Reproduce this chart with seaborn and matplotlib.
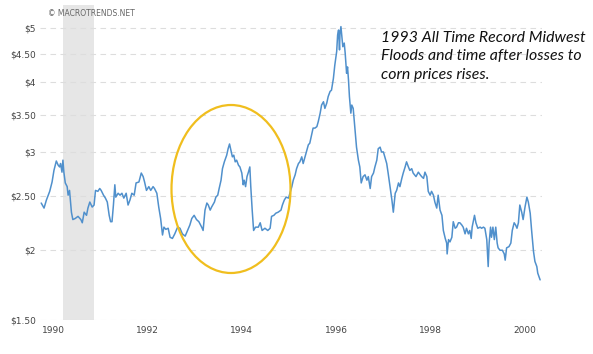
import numpy as np
import pandas as pd
import matplotlib
matplotlib.use("Agg")
import matplotlib.pyplot as plt
from matplotlib.patches import Ellipse
import seaborn as sns

# Corn price (USD per bushel), decimal years
years = [
    1989.75, 1989.81, 1989.86, 1989.93, 1989.98, 1990.02, 1990.07, 1990.11, 1990.14, 1990.16,
    1990.19, 1990.21, 1990.23, 1990.26, 1990.30, 1990.32, 1990.35, 1990.39, 1990.42, 1990.47,
    1990.53, 1990.59, 1990.62, 1990.66, 1990.71, 1990.74, 1990.78, 1990.83, 1990.87, 1990.90,
    1990.95, 1990.99, 1991.02, 1991.07, 1991.11, 1991.15, 1991.19, 1991.22, 1991.25, 1991.28,
    1991.31, 1991.33, 1991.38, 1991.42, 1991.46, 1991.50, 1991.55, 1991.59, 1991.63, 1991.67,
    1991.72, 1991.76, 1991.82, 1991.87, 1991.91, 1991.94, 1991.98, 1992.03, 1992.07, 1992.12,
    1992.15, 1992.20, 1992.24, 1992.28, 1992.32, 1992.35, 1992.39, 1992.44,
    1992.48, 1992.53, 1992.58, 1992.64, 1992.69, 1992.74, 1992.80, 1992.85, 1992.90, 1992.94,
    1992.99, 1993.04, 1993.09, 1993.15, 1993.18, 1993.22, 1993.26, 1993.29, 1993.33, 1993.36,
    1993.42, 1993.45, 1993.49, 1993.52, 1993.56, 1993.59, 1993.63, 1993.68, 1993.71, 1993.74,
    1993.77, 1993.80, 1993.83, 1993.86, 1993.89, 1993.93, 1993.96, 1994.00, 1994.03, 1994.05,
    1994.08, 1994.11, 1994.14, 1994.17, 1994.19, 1994.22, 1994.25, 1994.29, 1994.35, 1994.39,
    1994.43, 1994.49, 1994.55, 1994.60, 1994.63, 1994.68, 1994.72, 1994.77, 1994.83, 1994.86,
    1994.90, 1994.94, 1994.99, 1995.02, 1995.06, 1995.09, 1995.13,
    1995.16, 1995.20, 1995.23, 1995.27, 1995.30, 1995.34, 1995.38, 1995.41, 1995.44, 1995.48,
    1995.51, 1995.55, 1995.59, 1995.62, 1995.66, 1995.69, 1995.73, 1995.76, 1995.80, 1995.83,
    1995.87, 1995.90, 1995.94, 1995.97, 1996.01, 1996.03, 1996.05, 1996.07, 1996.08, 1996.10,
    1996.12, 1996.14, 1996.17, 1996.19, 1996.22, 1996.24, 1996.26, 1996.28, 1996.31, 1996.33,
    1996.36, 1996.40, 1996.43, 1996.47, 1996.50, 1996.53, 1996.57, 1996.61, 1996.65, 1996.68,
    1996.72, 1996.75, 1996.79, 1996.82, 1996.86, 1996.89, 1996.93, 1996.96, 1997.00, 1997.03,
    1997.07, 1997.10, 1997.14, 1997.18, 1997.21, 1997.25, 1997.28, 1997.32, 1997.35, 1997.39,
    1997.42, 1997.46, 1997.49, 1997.53, 1997.56, 1997.60, 1997.63, 1997.69, 1997.74,
    1997.78, 1997.81, 1997.85, 1997.88, 1997.92, 1997.95, 1997.99, 1998.02, 1998.06, 1998.09,
    1998.13, 1998.16, 1998.20, 1998.24, 1998.27, 1998.31, 1998.34, 1998.35, 1998.38, 1998.41,
    1998.45, 1998.48, 1998.52, 1998.55, 1998.59, 1998.62, 1998.66, 1998.69, 1998.73, 1998.76,
    1998.80, 1998.83, 1998.86, 1998.88, 1998.93, 1998.96, 1999.00, 1999.05, 1999.08, 1999.12,
    1999.15, 1999.19, 1999.22, 1999.24, 1999.27, 1999.29, 1999.32, 1999.35, 1999.38, 1999.41,
    1999.43, 1999.47, 1999.52, 1999.56, 1999.58, 1999.61, 1999.66, 1999.70, 1999.73, 1999.77,
    1999.80, 1999.83, 1999.86, 1999.89, 1999.93, 1999.96, 2000.00, 2000.04, 2000.07, 2000.11,
    2000.14, 2000.18, 2000.21, 2000.25, 2000.27, 2000.30, 2000.32,
]
prices = [
    2.43, 2.38, 2.46, 2.55, 2.65, 2.78, 2.89, 2.84, 2.82, 2.86,
    2.76, 2.90, 2.76, 2.64, 2.60, 2.51, 2.56, 2.34, 2.27, 2.28,
    2.30, 2.27, 2.24, 2.34, 2.31, 2.38, 2.44, 2.39, 2.41, 2.56,
    2.55, 2.58, 2.56, 2.51, 2.48, 2.44, 2.31, 2.25, 2.25, 2.41,
    2.62, 2.49, 2.53, 2.51, 2.53, 2.48, 2.53, 2.41, 2.46, 2.53,
    2.51, 2.64, 2.65, 2.75, 2.71, 2.65, 2.56, 2.60, 2.56, 2.60,
    2.58, 2.53, 2.39, 2.28, 2.13, 2.20, 2.18, 2.19,
    2.11, 2.10, 2.14, 2.20, 2.19, 2.14, 2.12, 2.17, 2.22, 2.28,
    2.31, 2.27, 2.25, 2.20, 2.17, 2.36, 2.43, 2.41, 2.36, 2.39,
    2.44, 2.49, 2.51, 2.58, 2.67, 2.80, 2.88, 2.96, 3.04, 3.10,
    3.02, 2.94, 2.96, 2.88, 2.90, 2.84, 2.82, 2.75, 2.62, 2.67,
    2.60, 2.71, 2.76, 2.82, 2.60, 2.36, 2.17, 2.20, 2.20, 2.24,
    2.17, 2.19, 2.17, 2.19, 2.30, 2.31, 2.33, 2.34, 2.36, 2.41,
    2.46, 2.49, 2.48, 2.53, 2.60, 2.67, 2.73,
    2.80, 2.86, 2.88, 2.94, 2.86, 2.94, 3.02, 3.09, 3.11, 3.22,
    3.31, 3.31, 3.33, 3.40, 3.52, 3.64, 3.69, 3.59, 3.67, 3.77,
    3.85, 3.87, 4.06, 4.29, 4.54, 4.86, 4.96, 4.57, 4.89, 5.03,
    4.83, 4.63, 4.70, 4.51, 4.15, 4.26, 4.04, 3.77, 3.52, 3.64,
    3.59, 3.28, 3.06, 2.90, 2.82, 2.64, 2.71, 2.73, 2.67, 2.71,
    2.58, 2.71, 2.75, 2.82, 2.90, 3.04, 3.06, 3.00, 3.00, 2.94,
    2.86, 2.75, 2.60, 2.46, 2.34, 2.53, 2.56, 2.64, 2.60, 2.69,
    2.75, 2.82, 2.88, 2.82, 2.78, 2.80, 2.75, 2.71, 2.76,
    2.73, 2.71, 2.69, 2.76, 2.71, 2.55, 2.51, 2.55, 2.51, 2.44,
    2.38, 2.51, 2.36, 2.31, 2.17, 2.10, 2.06, 1.97, 2.09, 2.07,
    2.11, 2.25, 2.19, 2.20, 2.24, 2.24, 2.22, 2.20, 2.14, 2.19,
    2.14, 2.17, 2.10, 2.20, 2.31, 2.24, 2.19, 2.20, 2.19, 2.20,
    2.19, 2.09, 1.87, 2.06, 2.20, 2.11, 2.20, 2.09, 2.20, 2.06,
    2.02, 2.00, 2.00, 1.97, 1.92, 2.02, 2.03, 2.06, 2.17, 2.24,
    2.22, 2.19, 2.24, 2.41, 2.34, 2.27, 2.39, 2.49, 2.44, 2.33,
    2.17, 1.99, 1.91, 1.87, 1.82, 1.79, 1.77,
]

# recession shading (decimal years)
recession = [1990.21, 1990.87]

y_ticks = [1.5, 2, 2.5, 3, 3.5, 4, 4.5, 5]
y_labels = ["$1.50", "$2", "$2.50", "$3", "$3.50", "$4", "$4.50", "$5"]
x_ticks = [1990, 1992, 1994, 1996, 1998, 2000]

note = "1993 All Time Record Midwest\nFloods and time after losses to\ncorn prices rises."

df = pd.DataFrame({"year": years, "price": prices})

sns.set_style("white")
plt.rcParams["font.family"] = ["DejaVu Sans"]

fig = plt.figure(figsize=(5.93, 3.54), dpi=100)
ax = fig.add_axes([0.0675, 0.096, 0.8465, 0.890])

ax.axvspan(recession[0], recession[1], color="#e6e6e6", lw=0, zorder=0)

sns.lineplot(data=df, x="year", y="price", ax=ax, color="#5090cc", linewidth=1.1, zorder=3)

ax.set_yscale("log")
ax.set_ylim(1.5, 5.5)
ax.set_xlim(1989.725, 2000.36)
ax.set_yticks(y_ticks)
ax.set_yticklabels(y_labels)
ax.yaxis.set_minor_locator(matplotlib.ticker.NullLocator())
ax.set_xticks(x_ticks)
ax.set_xticklabels([str(t) for t in x_ticks])
ax.set_xlabel("")
ax.set_ylabel("")

for y in y_ticks:
    ax.axhline(y, color="#dddddd", linewidth=0.8, linestyle=(0, (5, 4)), zorder=1)

for s in ax.spines.values():
    s.set_visible(False)
ax.tick_params(axis="both", length=0, labelsize=6.5, labelcolor="#444444")
ax.tick_params(axis="y", pad=3)
ax.tick_params(axis="x", pad=4)

fig.text(48 / 593, 1 - 14 / 354, "\u00a9 MACROTRENDS.NET", fontsize=5.5, color="#666666",
         va="center", ha="left")

# circled area around the 1993 flood
ell = Ellipse((231 / 593, 1 - 189 / 354), 119 / 593, 168 / 354, transform=fig.transFigure,
              fill=False, edgecolor="#f0be1e", linewidth=1.6, zorder=5)
fig.add_artist(ell)

fig.text(381 / 593, 1 - 31 / 354, note, fontsize=11.4, style="italic", family=["Lato", "DejaVu Sans"],
         color="#111111", va="top", ha="left", linespacing=1.4)

plt.savefig("out.png", dpi=100)
